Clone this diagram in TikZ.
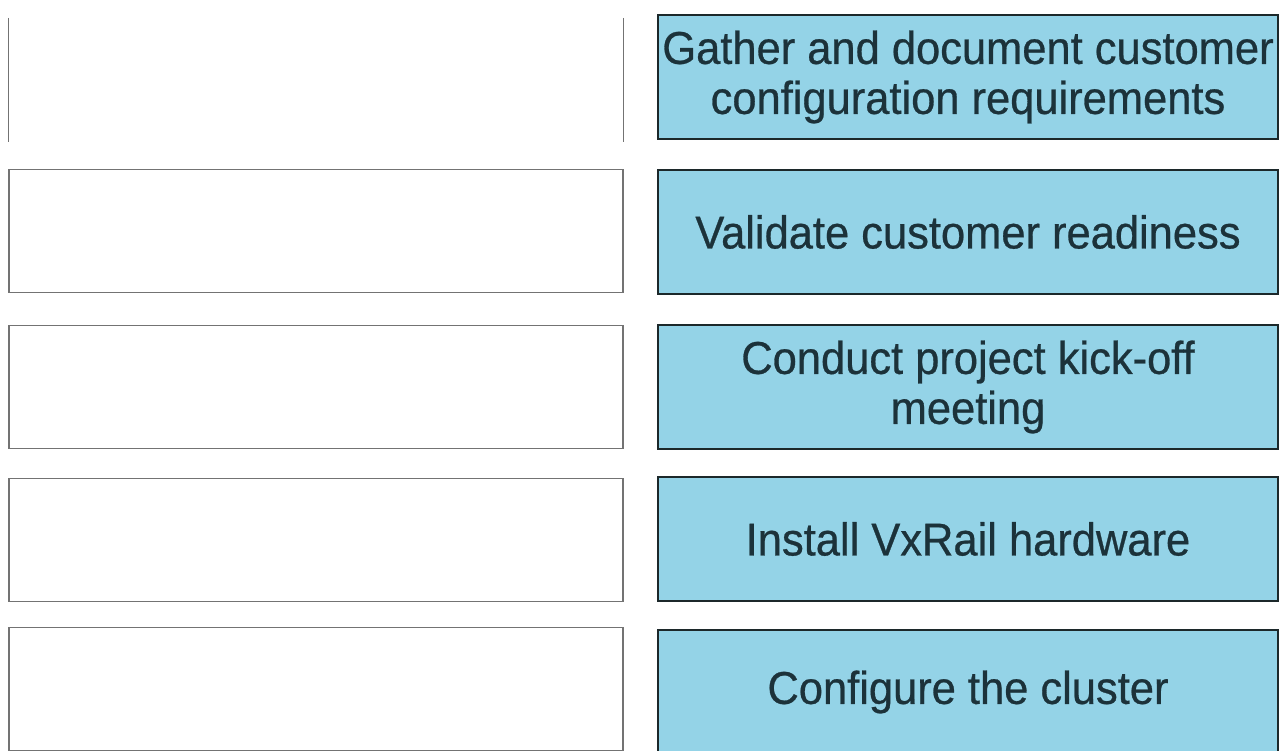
\documentclass[tikz,border=0pt]{standalone}
\usepackage{fontspec}
\setmainfont{Liberation Sans}[FakeStretch=0.945, FakeBold=0.6]
\usetikzlibrary{calc}

\definecolor{taskblue}{RGB}{148,211,231}
\definecolor{taskline}{RGB}{28,40,42}
\definecolor{tasktext}{RGB}{28,50,58}
\definecolor{slotline}{RGB}{115,115,115}

\tikzset{
	slot/.style={draw=slotline, line width=1.3pt, minimum width=614pt, minimum height=123pt, inner sep=0pt},
	stepbox/.style={draw=taskline, fill=taskblue, line width=2.6pt, minimum width=620pt, minimum height=124pt, inner sep=0pt, align=center, text=tasktext, font=\fontsize{46}{50}\selectfont}
}

\begin{document}
\begin{tikzpicture}[x=1pt,y=-1pt]
	\useasboundingbox (0,0) rectangle (1280,751);
	\fill[white] (0,0) rectangle (1280,751);
	% empty answer slots (the first one only shows its sides)
	\node[slot, draw=none] (slot1) at (316,80) {};
	\draw[slotline, line width=1.3pt] (slot1.north west) -- (slot1.south west);
	\draw[slotline, line width=1.3pt] (slot1.north east) -- (slot1.south east);
	\foreach \row/\ltop in {2/170, 3/326, 4/479, 5/628} {
		\node[slot] (slot\row) at (316,\ltop+61) {};
	}
	% tasks to be ordered
	\foreach \row/\rtop/\task in {1/15/{Gather and document customer\\configuration requirements}, 2/170/{Validate customer readiness}, 3/325/{Conduct project kick-off\\meeting}, 4/477/{Install VxRail hardware}, 5/630/{Configure the cluster}} {
		\node[stepbox] (task\row) at (968,\rtop+62) {\task};
	}
\end{tikzpicture}
\end{document}
